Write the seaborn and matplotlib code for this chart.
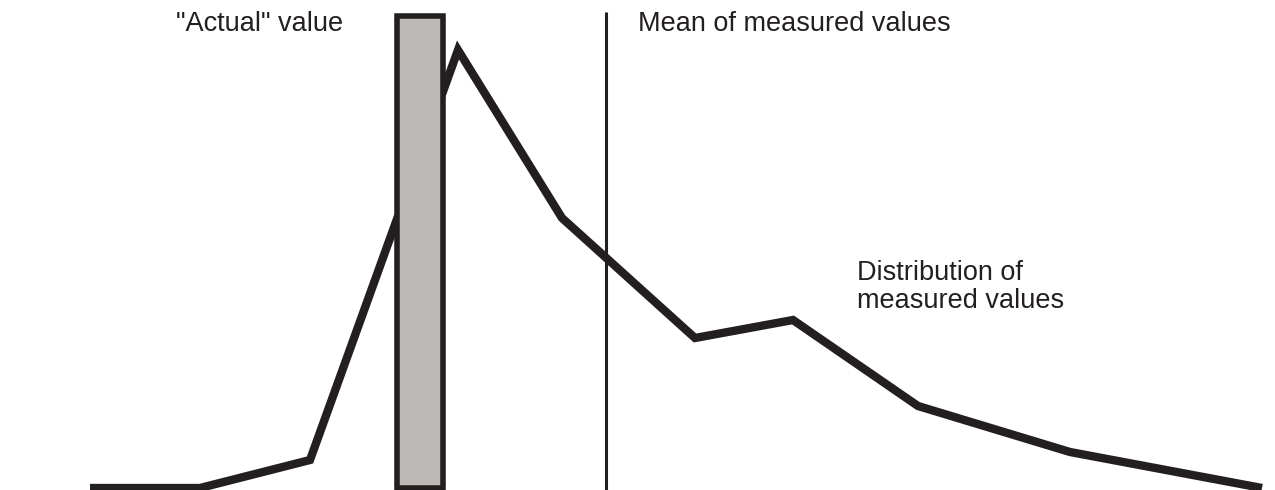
import matplotlib
matplotlib.use("Agg")
import matplotlib.pyplot as plt
import seaborn as sns
import pandas as pd

# distribution of measured values (x position, height)
dist_x = [90, 200, 310, 458, 562, 695, 793, 918, 1070, 1262]
dist_y = [2, 2, 30, 440, 272, 152, 170, 84, 38, 2]

# "actual" value bar and mean line
actual_x = 420
actual_height = 472
mean_x = 606

LINE_COLOR = "#231f20"
BAR_COLOR = "#bdb9b6"

sns.set_style("white")
plt.rcParams['font.family'] = ['Liberation Sans', 'DejaVu Sans']

fig = plt.figure(figsize=(12.75, 4.9), dpi=100)
ax = fig.add_axes([0, 0, 1, 1])

df = pd.DataFrame({"x": dist_x, "y": dist_y})
sns.lineplot(data=df, x="x", y="y", sort=False, color=LINE_COLOR,
             linewidth=6.0, ax=ax, zorder=2)
ax.lines[-1].set_solid_joinstyle("miter")
ax.lines[-1].set_solid_capstyle("butt")

ax.bar([actual_x], [actual_height], width=46, bottom=2, color=BAR_COLOR,
       edgecolor=LINE_COLOR, linewidth=4.0, zorder=3)
ax.vlines(mean_x, 0, 478, color=LINE_COLOR, linewidth=2.2, zorder=4)

ax.text(176, 466, '"Actual" value', fontsize=19.5, va="center", ha="left", color=LINE_COLOR)
ax.text(638, 466, "Mean of measured values", fontsize=19.5, va="center", ha="left", color=LINE_COLOR)
ax.text(857, 203, "Distribution of\nmeasured values", fontsize=19.5, va="center", ha="left",
        color=LINE_COLOR, linespacing=1.12)

ax.set_xlim(0, 1275)
ax.set_ylim(0, 490)
ax.set_axis_off()

fig.savefig("out.png", dpi=100, facecolor="white")
